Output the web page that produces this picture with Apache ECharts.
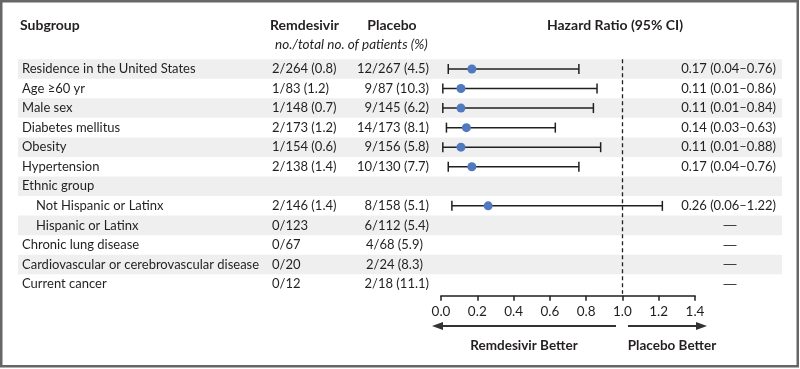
<!DOCTYPE html>
<html><head><meta charset="utf-8">
<script src="https://cdn.jsdelivr.net/npm/echarts@6/dist/echarts.min.js"></script>
<style>html,body{margin:0;padding:0;background:#fff}#c{width:800px;height:369px}</style>
</head><body><div id="c"></div>
<script>
const subgroups = ['Residence in the United States','Age \u226560 yr','Male sex','Diabetes mellitus','Obesity','Hypertension','Ethnic group','Not Hispanic or Latinx','Hispanic or Latinx','Chronic lung disease','Cardiovascular or cerebrovascular disease','Current cancer'];
const indentLevel = [0,0,0,0,0,0,0,1,1,0,0,0];
const remdesivir = ['2/264 (0.8)','1/83 (1.2)','1/148 (0.7)','2/173 (1.2)','1/154 (0.6)','2/138 (1.4)','','2/146 (1.4)','0/123','0/67','0/20','0/12'];
const placebo = ['12/267 (4.5)','9/87 (10.3)','9/145 (6.2)','14/173 (8.1)','9/156 (5.8)','10/130 (7.7)','','8/158 (5.1)','6/112 (5.4)','4/68 (5.9)','2/24 (8.3)','2/18 (11.1)'];
const hazardRatio = [0.17,0.11,0.11,0.14,0.11,0.17,null,0.26,null,null,null,null];
const ciLow = [0.04,0.01,0.01,0.03,0.01,0.04,null,0.06,null,null,null,null];
const ciHigh = [0.76,0.86,0.84,0.63,0.88,0.76,null,1.22,null,null,null,null];
const hrLabels = ['0.17 (0.04\u20130.76)','0.11 (0.01\u20130.86)','0.11 (0.01\u20130.84)','0.14 (0.03\u20130.63)','0.11 (0.01\u20130.88)','0.17 (0.04\u20130.76)','','0.26 (0.06\u20131.22)','\u2014','\u2014','\u2014','\u2014'];
const xMin = 0, xMax = 1.4, xStep = 0.2;

// layout / style only
const placeboLeftRows = [9, 10];
const FONT = 'Lato, "Open Sans", sans-serif';
const TXT = '#231f20';
const rowIdx = subgroups.map((_, i) => i);

function textCol(getText, x, align, font) {
  return function (params, api) {
    const i = api.value(0);
    const y = api.coord([0, i])[1];
    const t = getText(i);
    if (!t) return null;
    const fx = typeof x === 'function' ? x(i) : x;
    const fa = typeof align === 'function' ? align(i) : align;
    const ff = font ? font(i) : '13px ' + FONT;
    return { type: 'text', style: { text: t, x: fx, y: y, fill: TXT, font: ff, align: fa, verticalAlign: 'middle' } };
  };
}

const chart = echarts.init(document.getElementById('c'), null, { renderer: 'canvas' });
chart.setOption({
  animation: false,
  backgroundColor: '#fff',
  grid: { left: 441, right: 105, top: 59.2, height: 234.6, containLabel: false },
  xAxis: {
    type: 'value', min: xMin, max: xMax, interval: xStep, offset: 2,
    axisLine: { show: true, lineStyle: { color: '#231f20', width: 1.5 } },
    axisTick: { show: true, length: 5, lineStyle: { color: '#231f20', width: 1.5 } },
    axisLabel: { color: TXT, fontSize: 13.5, fontFamily: FONT, margin: 9, formatter: v => v.toFixed(1) },
    splitLine: { show: false }
  },
  yAxis: { type: 'category', data: subgroups, inverse: true, show: false },
  series: [
    { type: 'custom', z: 0, clip: false, silent: true, data: rowIdx.map(i => [i]),
      renderItem: function (params, api) {
        const i = api.value(0);
        if (i % 2 !== 0) return null;
        const y = api.coord([0, i])[1];
        const h = api.size([0, 1])[1];
        return { type: 'rect', shape: { x: 18, y: y - h / 2, width: 764, height: h }, style: { fill: '#efefef' } };
      } },
    { type: 'custom', z: 3, clip: false, silent: true, data: rowIdx.map(i => [i]),
      renderItem: textCol(i => subgroups[i], i => 22 + indentLevel[i] * 14, 'left') },
    { type: 'custom', z: 3, clip: false, silent: true, data: rowIdx.map(i => [i]),
      renderItem: textCol(i => remdesivir[i], 272, 'left') },
    { type: 'custom', z: 3, clip: false, silent: true, data: rowIdx.map(i => [i]),
      renderItem: textCol(i => placebo[i], i => placeboLeftRows.includes(i) ? 366 : 429, i => placeboLeftRows.includes(i) ? 'left' : 'right') },
    { type: 'custom', z: 3, clip: false, silent: true, data: rowIdx.map(i => [i]),
      renderItem: textCol(i => hrLabels[i], i => hazardRatio[i] == null ? 730 : 776, i => hazardRatio[i] == null ? 'center' : 'right',
        i => hazardRatio[i] == null ? '13px "Liberation Sans", sans-serif' : '13px ' + FONT) },
    { type: 'custom', z: 4, clip: false, silent: true,
      data: rowIdx.filter(i => hazardRatio[i] != null).map(i => [ciLow[i], ciHigh[i], i]),
      renderItem: function (params, api) {
        const p1 = api.coord([api.value(0), api.value(2)]);
        const p2 = api.coord([api.value(1), api.value(2)]);
        const st = { stroke: '#231f20', lineWidth: 1.5 };
        return { type: 'group', children: [
          { type: 'line', shape: { x1: p1[0], y1: p1[1], x2: p2[0], y2: p2[1] }, style: st },
          { type: 'line', shape: { x1: p1[0], y1: p1[1] - 5, x2: p1[0], y2: p1[1] + 5 }, style: st },
          { type: 'line', shape: { x1: p2[0], y1: p2[1] - 5, x2: p2[0], y2: p2[1] + 5 }, style: st }
        ] };
      } },
    { type: 'scatter', z: 5, silent: true, symbol: 'circle', symbolSize: 9,
      itemStyle: { color: '#5079c0', opacity: 1 },
      data: rowIdx.filter(i => hazardRatio[i] != null).map(i => [hazardRatio[i], i]),
      markLine: { silent: true, symbol: 'none', label: { show: false },
        lineStyle: { color: '#231f20', type: [4, 3], width: 1.3 },
        data: [{ xAxis: 1 }] } }
  ],
  graphic: [
    { type: 'rect', silent: true, shape: { x: 1.25, y: 1.25, width: 796.5, height: 365 }, style: { fill: null, stroke: '#666', lineWidth: 2.5 } },
    { type: 'text', style: { text: 'Subgroup', x: 20, y: 25, font: 'bold 14px ' + FONT, fill: TXT, verticalAlign: 'middle' } },
    { type: 'text', style: { text: 'Remdesivir', x: 270, y: 25, font: 'bold 14px ' + FONT, fill: TXT, verticalAlign: 'middle' } },
    { type: 'text', style: { text: 'Placebo', x: 392, y: 25, font: 'bold 14px ' + FONT, fill: TXT, align: 'center', verticalAlign: 'middle' } },
    { type: 'text', style: { text: 'no./total no. of patients (%)', x: 275, y: 45, font: 'italic 13.5px ' + FONT, fill: TXT, verticalAlign: 'middle' } },
    { type: 'text', style: { text: 'Hazard Ratio (95% CI)', x: 615, y: 25, font: 'bold 14px ' + FONT, fill: TXT, align: 'center', verticalAlign: 'middle' } },
    { type: 'line', shape: { x1: 440, y1: 326, x2: 616, y2: 326 }, style: { stroke: '#333', lineWidth: 2 } },
    { type: 'polygon', shape: { points: [[432, 326], [443, 322], [443, 330]] }, style: { fill: '#333' } },
    { type: 'line', shape: { x1: 628, y1: 326, x2: 699, y2: 326 }, style: { stroke: '#333', lineWidth: 2 } },
    { type: 'polygon', shape: { points: [[707, 326], [696, 322], [696, 330]] }, style: { fill: '#333' } },
    { type: 'text', style: { text: 'Remdesivir Better', x: 524, y: 346, font: 'bold 13.5px ' + FONT, fill: TXT, align: 'center', verticalAlign: 'middle' } },
    { type: 'text', style: { text: 'Placebo Better', x: 672, y: 346, font: 'bold 13.5px ' + FONT, fill: TXT, align: 'center', verticalAlign: 'middle' } }
  ]
});
</script></body></html>
